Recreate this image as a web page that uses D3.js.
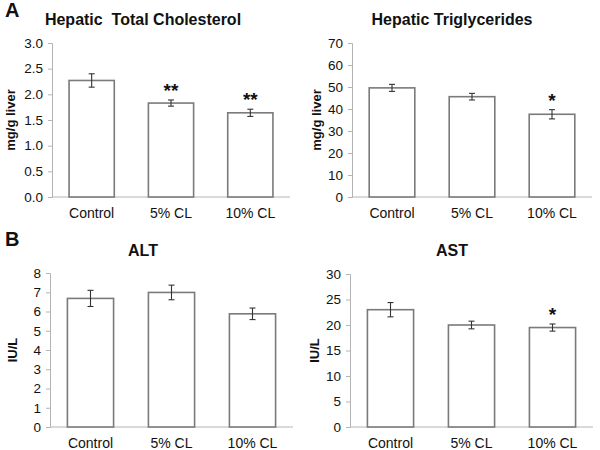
<!DOCTYPE html>
<html>
<head>
<meta charset="utf-8">
<script src="https://cdn.jsdelivr.net/npm/d3@7"></script>
<style>
  body { margin: 0; background: #fff; }
  svg { font-family: "Liberation Sans", Arial, sans-serif; }
</style>
</head>
<body>
<svg id="chart" width="600" height="450"></svg>
<script>
const categories = ["Control", "5% CL", "10% CL"];

const cholesterolValues = [2.27, 1.83, 1.64];
const cholesterolErrors = [0.13, 0.06, 0.07];
const cholesterolStars = ["", "**", "**"];
const cholesterolTicks = [0, 0.5, 1.0, 1.5, 2.0, 2.5, 3.0];

const triglycerideValues = [49.6, 45.6, 37.6];
const triglycerideErrors = [1.6, 1.5, 2.1];
const triglycerideStars = ["", "", "*"];
const triglycerideTicks = [0, 10, 20, 30, 40, 50, 60, 70];

const altValues = [6.68, 6.99, 5.88];
const altErrors = [0.42, 0.38, 0.3];
const altStars = ["", "", ""];
const altTicks = [0, 1, 2, 3, 4, 5, 6, 7, 8];

const astValues = [23.0, 20.0, 19.5];
const astErrors = [1.4, 0.75, 0.7];
const astStars = ["", "", "*"];
const astTicks = [0, 5, 10, 15, 20, 25, 30];

const panels = [
  { title: "Hepatic  Total Cholesterol", ylabel: "mg/g liver", values: cholesterolValues, errors: cholesterolErrors, stars: cholesterolStars, ticks: cholesterolTicks, fmt: ".1f",
    x0: 52, x1: 290, y0: 197, y1: 43, titleX: 143, titleY: 25, labelX: 10, letter: "A", letterY: 17 },
  { title: "Hepatic Triglycerides", ylabel: "mg/g liver", values: triglycerideValues, errors: triglycerideErrors, stars: triglycerideStars, ticks: triglycerideTicks, fmt: "d",
    x0: 352, x1: 592, y0: 197, y1: 43, titleX: 452, titleY: 25, labelX: 316 },
  { title: "ALT", ylabel: "IU/L", values: altValues, errors: altErrors, stars: altStars, ticks: altTicks, fmt: "d",
    x0: 50, x1: 293, y0: 427, y1: 273, titleX: 143, titleY: 256, labelX: 12, letter: "B", letterY: 246 },
  { title: "AST", ylabel: "IU/L", values: astValues, errors: astErrors, stars: astStars, ticks: astTicks, fmt: "d",
    x0: 350, x1: 593, y0: 427, y1: 274, titleX: 452, titleY: 256, labelX: 314 }
];

const svg = d3.select("#chart");
const axisColor = "#b4b4b4";
const barStroke = "#7a7a7a";
const textColor = "#111";

panels.forEach(p => {
  const g = svg.append("g");
  const x = d3.scaleBand().domain(categories).range([p.x0, p.x1]).paddingInner(0.43).paddingOuter(0.215);
  const ymax = p.ticks[p.ticks.length - 1];
  const y = d3.scaleLinear().domain([0, ymax]).range([p.y0, p.y1]);

  // y axis
  const ya = g.append("g").attr("transform", `translate(${p.x0},0)`)
    .call(d3.axisLeft(y).tickValues(p.ticks).tickFormat(d3.format(p.fmt)).tickSize(4).tickPadding(5));
  ya.select(".domain").attr("stroke", axisColor).attr("stroke-width", 1);
  ya.selectAll(".tick line").attr("stroke", axisColor);
  ya.selectAll(".tick text").attr("font-size", 13.5).attr("fill", textColor);

  // x axis
  const xa = g.append("g").attr("transform", `translate(0,${p.y0})`)
    .call(d3.axisBottom(x).tickSize(0).tickPadding(11));
  xa.select(".domain").attr("stroke", axisColor).attr("stroke-width", 1).attr("d", `M${p.x0},0H${p.x1}`);
  xa.selectAll(".tick text").attr("font-size", 14).attr("fill", textColor);

  // bars
  g.selectAll("rect.bar").data(p.values).join("rect")
    .attr("class", "bar")
    .attr("x", (d, i) => x(categories[i]))
    .attr("width", x.bandwidth())
    .attr("y", d => y(d))
    .attr("height", d => y(0) - y(d))
    .attr("fill", "#fff")
    .attr("stroke", barStroke)
    .attr("stroke-width", 1.6);

  // error bars
  const eb = g.selectAll("g.err").data(p.values).join("g").attr("class", "err");
  eb.each(function (d, i) {
    const cx = x(categories[i]) + x.bandwidth() / 2;
    const e = p.errors[i];
    const s = d3.select(this);
    s.append("line").attr("x1", cx).attr("x2", cx).attr("y1", y(d + e)).attr("y2", y(d - e));
    s.append("line").attr("x1", cx - 3).attr("x2", cx + 3).attr("y1", y(d + e)).attr("y2", y(d + e));
    s.append("line").attr("x1", cx - 3).attr("x2", cx + 3).attr("y1", y(d - e)).attr("y2", y(d - e));
    s.selectAll("line").attr("stroke", "#333").attr("stroke-width", 1.1);
    if (p.stars[i]) {
      s.append("text").attr("x", cx).attr("y", y(d + e) - 3)
        .attr("text-anchor", "middle").attr("font-size", 19).attr("font-weight", "bold")
        .attr("fill", textColor).text(p.stars[i]);
    }
  });

  // title
  g.append("text").attr("x", p.titleX).attr("y", p.titleY)
    .attr("text-anchor", "middle").attr("font-size", 16).attr("font-weight", "bold")
    .attr("fill", textColor).style("white-space", "pre").text(p.title);

  // y label
  g.append("text")
    .attr("transform", `translate(${p.labelX},${(p.y0 + p.y1) / 2}) rotate(-90)`)
    .attr("text-anchor", "middle").attr("dominant-baseline", "central")
    .attr("font-size", 13).attr("font-weight", "bold").attr("fill", textColor)
    .text(p.ylabel);

  if (p.letter) {
    g.append("text").attr("x", 5).attr("y", p.letterY)
      .attr("font-size", 20).attr("font-weight", "bold").attr("fill", textColor).text(p.letter);
  }
});
</script>
</body>
</html>
